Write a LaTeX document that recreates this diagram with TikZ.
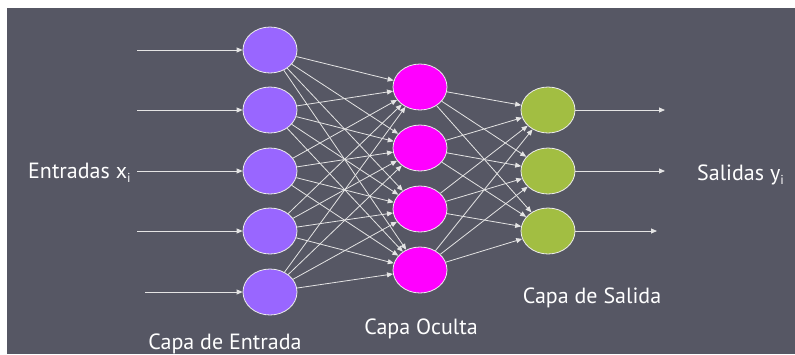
\documentclass[tikz,border=0pt]{standalone}
\usepackage{fontspec}
\setmainfont{PT Sans}
\usetikzlibrary{arrows.meta,shapes.geometric}
\definecolor{bg}{RGB}{86,87,100}
\definecolor{inp}{RGB}{153,102,255}
\definecolor{hid}{RGB}{255,0,255}
\definecolor{outc}{RGB}{162,190,66}
\definecolor{edgec}{RGB}{228,228,228}
\begin{document}
\begin{tikzpicture}[x=1pt,y=-1pt,
  neuron/.style={ellipse, minimum width=54pt, minimum height=46pt, inner sep=0pt, draw=white!85!gray, line width=0.8pt},
  conn/.style={draw=edgec, line width=0.8pt, -{Triangle[length=6pt,width=5pt]}},
  lbl/.style={text=white, font=\fontsize{22}{22}\selectfont, inner sep=0pt},
  subi/.style={}]
\useasboundingbox (0,0) rectangle (795,354);
\fill[white] (0,0) rectangle (795,354);
\fill[bg] (7,8) rectangle (795,354);
% input layer
\foreach \n/\y in {1/50,2/110,3/171,4/231,5/292}
  \node[neuron, fill=inp] (i\n) at (270,\y) {};
% hidden layer
\foreach \n/\y in {1/87,2/148,3/209,4/270}
  \node[neuron, fill=hid] (h\n) at (420,\y) {};
% output layer
\foreach \n/\y in {1/110,2/171,3/231}
  \node[neuron, fill=outc] (o\n) at (548,\y) {};
% input arrows
\coordinate (s1) at (137,50);
\coordinate (s2) at (137,110);
\coordinate (s3) at (137,171);
\coordinate (s4) at (137,231);
\coordinate (s5) at (145,292);
\foreach \n in {1,...,5} \draw[conn] (s\n) -- (i\n);
% output arrows
\coordinate (e1) at (665,110);
\coordinate (e2) at (665,171);
\coordinate (e3) at (657,231);
\foreach \n in {1,2,3} \draw[conn] (o\n) -- (e\n);
% full connections
\foreach \a in {1,...,5}
  \foreach \b in {1,...,4}
    \draw[conn] (i\a) -- (h\b);
\foreach \a in {1,...,4}
  \foreach \b in {1,2,3}
    \draw[conn] (h\a) -- (o\b);
% labels
\node[lbl, anchor=base west] (lin) at (28,178) {Entradas x{\fontsize{13}{13}\selectfont\raisebox{-4pt}{i}}};
\node[lbl, anchor=base west] (lout) at (697,180) {Salidas y{\fontsize{13}{13}\selectfont\raisebox{-4pt}{i}}};
\node[lbl, anchor=base] (cin) at (225,349) {Capa de Entrada};
\node[lbl, anchor=base] (chid) at (421,334) {Capa Oculta};
\node[lbl, anchor=base] (cout) at (592,303) {Capa de Salida};
\end{tikzpicture}
\end{document}
